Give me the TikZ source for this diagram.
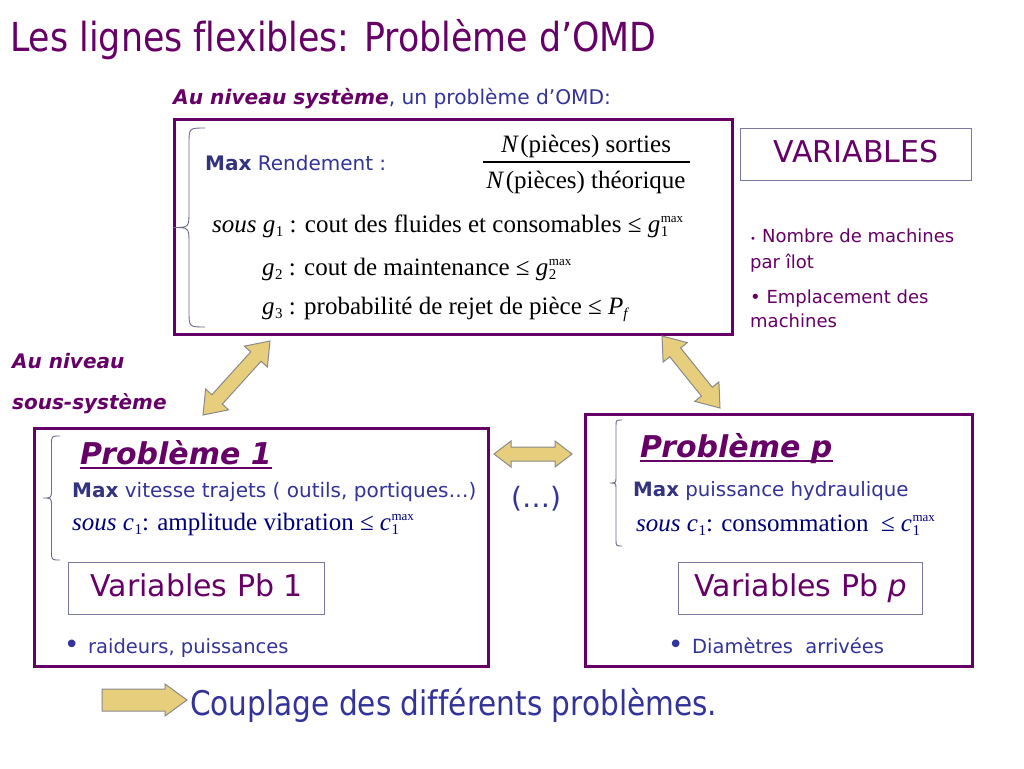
\documentclass[tikz,border=0pt]{standalone}
\usepackage{fontspec}
\setmainfont{DejaVu Sans}[Ligatures=NoCommon]
\newfontfamily\tah{DejaVu Sans}[FakeStretch=0.87, Ligatures=NoCommon]
\newfontfamily\tms{Liberation Serif}[Ligatures=NoCommon]
\usetikzlibrary{calc}
\definecolor{purp}{HTML}{660066}
\definecolor{navy}{HTML}{333399}
\definecolor{maxc}{HTML}{33337F}
\definecolor{mathb}{HTML}{00007A}
\definecolor{brc}{HTML}{6A6A8A}
\definecolor{vbx}{HTML}{7878A0}
\definecolor{arrf}{HTML}{E6CE7C}
\definecolor{arrd}{HTML}{8A8A8A}
\newcommand\fs[1]{\fontsize{#1}{#1}\selectfont}
\newcommand\vsub[2]{{\itshape #1}\kern0.5pt\raisebox{-4.5pt}{\fs{15}#2}}
\newcommand\vmax[2]{{\itshape #1}\kern0.5pt\rlap{\raisebox{-4.5pt}{\fs{15}#2}}\raisebox{10pt}{\fs{13}max}}
\newcommand\cbrace[4]{%
  \pgfmathsetmacro\bxm{(#1+#2)/2}\pgfmathsetmacro\bym{(#3+#4)/2}\pgfmathsetmacro\br{(#1-#2)/2}%
  \draw[bracesty] (#1,#3) .. controls (\bxm,#3) .. (\bxm,{#3+\br}) -- (\bxm,{\bym-\br})
    .. controls (\bxm,\bym) .. (#2,\bym) .. controls (\bxm,\bym) .. (\bxm,{\bym+\br})
    -- (\bxm,{#4-\br}) .. controls (\bxm,#4) .. (#1,#4);}
\newcommand\dblarr[5]{%
  \path ($(#1)!#3!(#2)$) coordinate (m1) ($(#2)!#3!(#1)$) coordinate (m2);
  \draw[blockarr] (#1) -- ($(m1)!#5!90:(#2)$) -- ($(m1)!#4!90:(#2)$) -- ($(m2)!#4!-90:(#1)$)
    -- ($(m2)!#5!-90:(#1)$) -- (#2) -- ($(m2)!#5!90:(#1)$) -- ($(m2)!#4!90:(#1)$)
    -- ($(m1)!#4!-90:(#2)$) -- ($(m1)!#5!-90:(#2)$) -- cycle;}
\newcommand\sglarr[5]{%
  \path ($(#2)!#3!(#1)$) coordinate (m2);
  \draw[blockarr] ($(#1)!#4!90:(#2)$) -- ($(m2)!#4!-90:(#1)$) -- ($(m2)!#5!-90:(#1)$) -- (#2)
    -- ($(m2)!#5!90:(#1)$) -- ($(m2)!#4!90:(#1)$) -- ($(#1)!#4!-90:(#2)$) -- cycle;}
\tikzset{
  bigbox/.style={draw=purp, line width=2.8pt, inner sep=0pt, anchor=north west},
  varbox/.style={draw=vbx, line width=1.2pt, inner sep=0pt, text=purp, font={\fs{30}},
    anchor=north west, text height=22pt, text depth=6pt},
  txt/.style={inner sep=0pt, anchor=base west},
  bracesty/.style={draw=brc, line width=0.9pt},
  blockarr/.style={fill=arrf, draw=arrd, line width=1pt, line join=miter},
}
\begin{document}
\begin{tikzpicture}[x=1pt, y=-1pt]
\useasboundingbox[fill=white] (0,0) rectangle (1024,768);
% title
\node[txt, text=purp] (title) at (10,52) {\tah\fs{40}Les lignes flexibles: Problème d’OMD};
\node[txt, text=navy] (sub) at (173,104) {\fs{20.2}{\color{purp}\bfseries\itshape Au niveau système}, un problème d’OMD:};
% system box
\node[bigbox, minimum width=558pt, minimum height=215pt] (sys) at (173,118) {};
\cbrace{205}{173}{128}{327}
\node[txt, text=navy] (maxr) at (205,170) {\fs{20}{\color{maxc}\bfseries Max} Rendement :};
\node[inner sep=0pt, anchor=base] (num) at (586,152) {\tms\fs{25}\textit{N}\kern1.5pt(pièces) sorties};
\node[inner sep=0pt, anchor=base] (den) at (586,188) {\tms\fs{25}\textit{N}\kern1.5pt(pièces) théorique};
\draw[line width=1.1pt] (483,162) -- (690,162);
\node[txt] (g1) at (212,232) {\tms\fs{25}\textit{sous} \vsub{g}{1} : cout des fluides et consomables ≤ \vmax{g}{1}};
\node[txt] (g2) at (262,275) {\tms\fs{25}\vsub{g}{2} : cout de maintenance ≤ \vmax{g}{2}};
\node[txt] (g3) at (262,314) {\tms\fs{25}\vsub{g}{3} : probabilité de rejet de pièce ≤ {\itshape P}\raisebox{-4.5pt}{\fs{15}\itshape f}};
% variables
\node[varbox, minimum width=231pt, minimum height=52pt] (vars) at (740,128) {VARIABLES};
\node[txt, text=purp] (v1) at (750,242) {\fs{18}{\fs{10}•}\kern6pt Nombre de machines};
\node[txt, text=purp] (v1b) at (750,268) {\fs{18}par îlot};
\node[txt, text=purp] (v2) at (750,303) {\fs{18}• Emplacement des};
\node[txt, text=purp] (v2b) at (750,327) {\fs{18}machines};
% sous-systeme label
\node[txt, text=purp] (an1) at (12,368) {\fs{20}\bfseries\itshape Au niveau};
\node[txt, text=purp] (an2) at (12,409) {\fs{20}\bfseries\itshape sous-système};
% box 1
\node[bigbox, minimum width=454pt, minimum height=238pt] (b1) at (33,427) {};
\cbrace{60}{43}{436}{560}
\node[txt, text=purp] (p1) at (80,464) {\fs{30}\bfseries\itshape Problème 1};
\draw[purp, line width=2.5pt] ([yshift=-4pt]p1.base west) -- ([yshift=-4pt]p1.base east);
\node[txt, text=navy] (m1t) at (72,497) {\fs{20}{\color{maxc}\bfseries Max} vitesse trajets ( outils, portiques…)};
\node[txt, text=mathb] (c1t) at (72,530) {\tms\fs{25}\textit{sous} \vsub{c}{1}: amplitude vibration ≤ \vmax{c}{1}};
\node[varbox, minimum width=256pt, minimum height=52pt] (vp1) at (68,562) {Variables Pb 1};
\node[txt, text=navy] (bu1) at (64,653) {\fs{26}•};
\node[txt, text=navy] (r1) at (88,653) {\fs{19.5}raideurs, puissances};
% box p
\node[bigbox, minimum width=387pt, minimum height=252pt] (bp) at (584,413) {};
\cbrace{622}{610}{420}{546}
\node[txt, text=purp] (pp) at (640,457) {\fs{30}\bfseries\itshape Problème p};
\draw[purp, line width=2.5pt] ([yshift=-4pt]pp.base west) -- ([yshift=-4pt]pp.base east);
\node[txt, text=navy] (mpt) at (633,496) {\fs{19.8}{\color{maxc}\bfseries Max} puissance hydraulique};
\node[txt, text=mathb] (cpt) at (636,531) {\tms\fs{25}\textit{sous} \vsub{c}{1}: consommation \ ≤ \vmax{c}{1}};
\node[varbox, minimum width=244pt, minimum height=52pt] (vpp) at (678,562) {Variables Pb {\itshape p}};
\node[txt, text=navy] (bup) at (668,653) {\fs{26}•};
\node[txt, text=navy] (rp) at (692,653) {\fs{19.5}Diamètres \ arrivées};
% dots
\node[inner sep=0pt, text=navy] (dots) at (536,499) {\fs{28}(…)};
% arrows
\coordinate (a1s) at (203,415);
\coordinate (a1e) at (270,341);
\dblarr{a1s}{a1e}{21pt}{7pt}{15.5pt}
\coordinate (a2s) at (662,336);
\coordinate (a2e) at (720,408);
\dblarr{a2s}{a2e}{21pt}{7pt}{15.5pt}
\coordinate (a3s) at (494,454);
\coordinate (a3e) at (572,454);
\dblarr{a3s}{a3e}{17pt}{7pt}{13pt}
\coordinate (a4s) at (102,700);
\coordinate (a4e) at (187,700);
\sglarr{a4s}{a4e}{22pt}{11pt}{16pt}
\node[txt, text=navy] (coup) at (190,715) {\tah\fs{34}Couplage des différents problèmes.};
\end{tikzpicture}
\end{document}
